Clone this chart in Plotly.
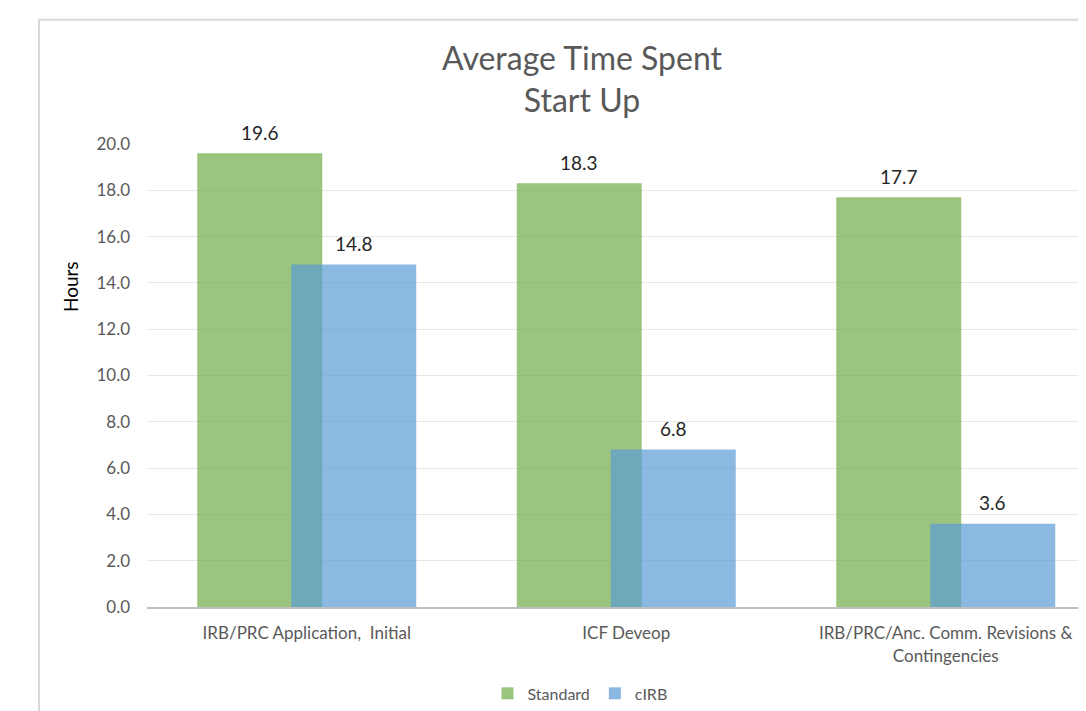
import plotly.graph_objects as go

categories = ["IRB/PRC Application,  Initial", "ICF Deveop", "IRB/PRC/Anc. Comm. Revisions &<br>Contingencies"]
standard = [19.6, 18.3, 17.7]
cirb = [14.8, 6.8, 3.6]
y_ticks = [0, 2, 4, 6, 8, 10, 12, 14, 16, 18, 20]

OFF = 8  # page body margin
W, H = 1086 - OFF, 711 - OFF
L, R, T, B = 147 - OFF, 0, 144 - OFF, 101
pw, ph = W - L - R, H - T - B
cat_px = 319.5

def px_x(x):
    return (x - OFF - L) / pw

def px_y(y):
    return (H - B - (y - OFF)) / ph

xpos = list(range(len(categories)))
bw = 125 / cat_px
off_std = -109.5 / cat_px
off_cirb = -15.5 / cat_px
font = "Lato, 'Open Sans', sans-serif"

fig = go.Figure()
fig.add_trace(go.Bar(
    x=xpos, y=standard, name="Standard",
    marker=dict(color="#70AD47", line=dict(width=0)), opacity=0.7,
    width=bw, offset=off_std,
))
fig.add_trace(go.Bar(
    x=xpos, y=cirb, name="cIRB",
    marker=dict(color="#5B9BD5", line=dict(width=0)), opacity=0.7,
    width=bw, offset=off_cirb,
))

annotations = []
for vals, off in ((standard, off_std), (cirb, off_cirb)):
    for xi, v in zip(xpos, vals):
        annotations.append(dict(
            x=xi + off + bw / 2, y=v, xref="x", yref="y", text=f"{v:.1f}",
            showarrow=False, yshift=21, xanchor="center", yanchor="middle",
            font=dict(size=19, color="#262626", family=font)))

annotations += [
    dict(text="Average Time Spent<br>Start Up", xref="paper", yref="paper",
         x=px_x(582), y=px_y(78), xanchor="center", yanchor="middle",
         showarrow=False, font=dict(size=32, color="#595959", family=font)),
    dict(text="Hours", xref="paper", yref="paper", x=px_x(70), y=px_y(288),
         xanchor="center", yanchor="middle", textangle=-90, showarrow=False,
         font=dict(size=19, color="#000000", family=font)),
]

fig.update_layout(
    width=W, height=H,
    margin=dict(l=L, r=R, t=T, b=B, pad=0),
    barmode="overlay",
    plot_bgcolor="white", paper_bgcolor="white",
    font=dict(family=font, color="#595959", size=17),
    showlegend=True,
    legend=dict(orientation="h", x=px_x(580), xanchor="center", y=px_y(697), yanchor="middle",
                font=dict(size=16, color="#595959"), itemwidth=30, traceorder="normal"),
    xaxis=dict(
        range=[-0.5, -0.5 + pw / cat_px],
        tickvals=xpos, ticktext=categories,
        showgrid=False, zeroline=False,
        showline=True, linecolor="#BFBFBF", linewidth=2,
        ticks="", tickfont=dict(size=17, color="#595959"), ticklabelstandoff=10,
    ),
    yaxis=dict(
        range=[0, 20], tickvals=y_ticks, tickformat=".1f",
        showgrid=True, gridcolor="#E8E8E8", gridwidth=1,
        zeroline=False, showline=False, ticks="",
        tickfont=dict(size=17, color="#595959"), ticklabelstandoff=16,
    ),
    shapes=[dict(type="rect", xref="paper", yref="paper",
                 x0=px_x(39), x1=px_x(1130), y0=px_y(730), y1=px_y(19),
                 line=dict(color="#D9D9D9", width=2), layer="below")],
    annotations=annotations,
)

fig.write_html("out.html")
